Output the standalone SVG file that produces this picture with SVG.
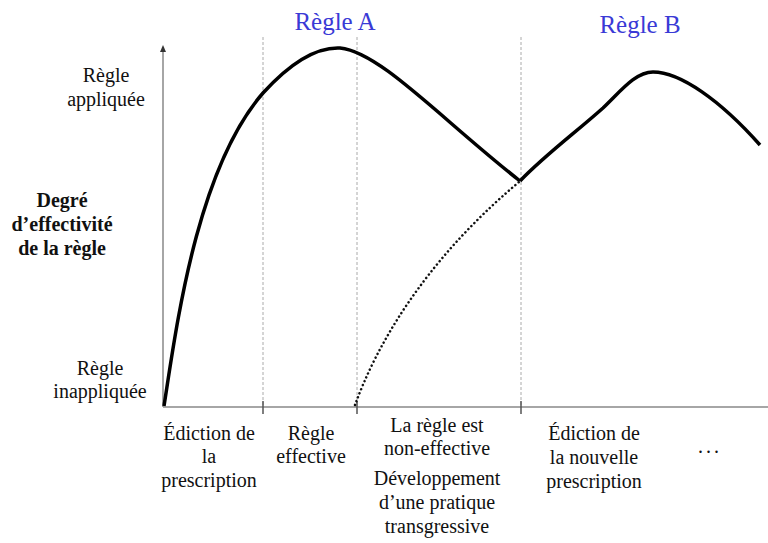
<svg xmlns="http://www.w3.org/2000/svg" width="768" height="543" viewBox="0 0 768 543">
<defs>
<marker id="arr" markerWidth="8" markerHeight="8" refX="4" refY="4" orient="auto" markerUnits="userSpaceOnUse"><path d="M0,1 L7,4 L0,7 Z" fill="#333"/></marker>
<style>
text{font-family:"Liberation Serif","Times New Roman","DejaVu Serif",serif;font-size:20px;fill:#111;text-anchor:middle}
.blue{fill:#3a3ad6;font-size:25px}
.bold{font-weight:bold}
.axis{stroke:#888;stroke-width:1.5;fill:none}
.guide{stroke:#aaa;stroke-width:1;stroke-dasharray:3 2;fill:none}
.tick{stroke:#555;stroke-width:1.5}
.curve{stroke:#000;stroke-width:3.5;fill:none;stroke-linejoin:round}
.dots{stroke:#111;stroke-width:2.5;fill:none;stroke-dasharray:0.1 4.2;stroke-linecap:round}
</style>
</defs>
<rect width="768" height="543" fill="#fff"/>
<g id="axes">
<line class="axis" x1="163" y1="407" x2="163" y2="48" marker-end="url(#arr)"/>
<line class="axis" x1="163" y1="407" x2="768" y2="407"/>
<line class="guide" x1="263" y1="37" x2="263" y2="407"/>
<line class="guide" x1="357" y1="37" x2="357" y2="407"/>
<line class="guide" x1="521" y1="37" x2="521" y2="407"/>
<line class="tick" x1="263" y1="401" x2="263" y2="414"/>
<line class="tick" x1="357" y1="401" x2="357" y2="414"/>
<line class="tick" x1="521" y1="401" x2="521" y2="414"/>
</g>
<g id="connectors">
<path class="curve" d="M164,406 C176,330 196,170 263,93 C293,60 318,47 340,48 C380,52 440,118 520,181"/>
<path class="curve" d="M520,181 C545,155 575,133 603,108 C620,92 635,72 653,72 C680,72 720,100 760,145"/>
<path class="dots" d="M355,405 C375,350 420,265 519,182"/>
</g>
<g id="rule-a"><text class="blue" x="335" y="30">Règle A</text></g>
<g id="rule-b"><text class="blue" x="640" y="33">Règle B</text></g>
<g id="y-top"><text x="106" y="82">Règle</text><text x="106" y="106">appliquée</text></g>
<g id="y-title"><text class="bold" x="62" y="207">Degré</text><text class="bold" x="62" y="231">d’effectivité</text><text class="bold" x="62" y="255">de la règle</text></g>
<g id="y-bottom"><text x="100" y="375">Règle</text><text x="100" y="398">inappliquée</text></g>
<g id="phase1"><text x="209" y="440">Édiction de</text><text x="209" y="463">la</text><text x="209" y="487">prescription</text></g>
<g id="phase2"><text x="311" y="440">Règle</text><text x="311" y="463">effective</text></g>
<g id="phase3"><text x="437" y="432">La règle est</text><text x="437" y="455">non-effective</text><text x="437" y="485">Développement</text><text x="437" y="509">d’une pratique</text><text x="437" y="533">transgressive</text></g>
<g id="phase4"><text x="594" y="440">Édiction de</text><text x="594" y="464">la nouvelle</text><text x="594" y="488">prescription</text></g>
<g id="phase5"><text x="710" y="453" style="letter-spacing:3px">...</text></g>
</svg>
